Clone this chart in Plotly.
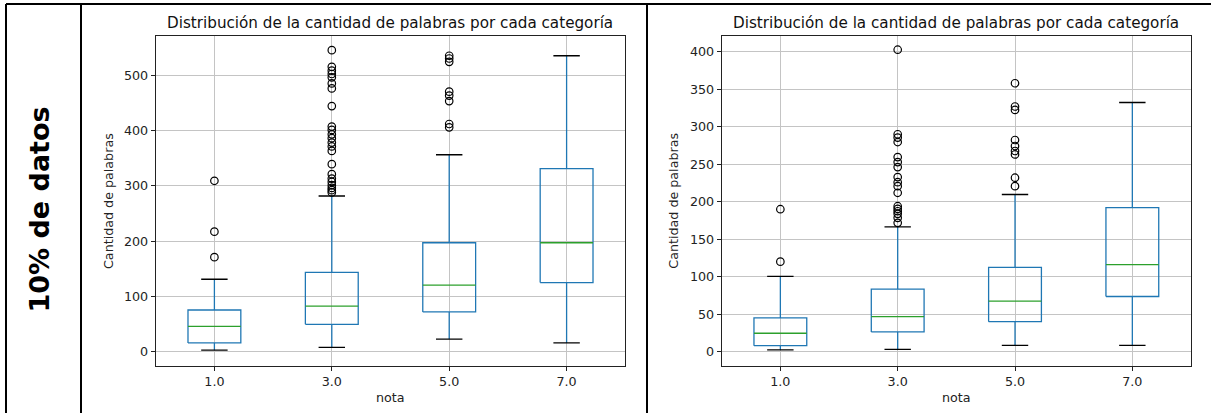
import plotly.graph_objects as go

# ---------------- data ----------------
notas = ["1.0", "3.0", "5.0", "7.0"]
positions = [1, 2, 3, 4]

# left panel
left_lo = [3, 8, 23, 16]
left_q1 = [16, 49.5, 72, 125]
left_med = [46, 82.5, 120.5, 197]
left_q3 = [75.5, 143.5, 197, 331]
left_hi = [131, 281.5, 356, 535]
left_fl_1 = [171, 217, 309]
left_fl_3 = [288, 292, 296, 301, 307, 313, 321, 339, 363, 371, 378, 386, 393,
             401, 407, 444, 476, 485, 496, 502, 508, 515, 545]
left_fl_5 = [405.6, 411.6, 453, 463, 470, 524, 530, 535]
left_fl_7 = []

# right panel
right_lo = [2.3, 3.2, 8.5, 8.5]
right_q1 = [8, 26.3, 40, 73.6]
right_med = [24.6, 46.8, 67.4, 116]
right_q3 = [45, 83.5, 112.4, 192.2]
right_hi = [100.3, 166.4, 209.6, 332.3]
right_fl_1 = [120, 190]
right_fl_3 = [171.8, 178.5, 183.8, 187.3, 190.5, 194, 211.9, 220.7, 226, 232.8,
              246.2, 252.9, 259.5, 279.6, 285.5, 290, 402.7]
right_fl_5 = [220.7, 232, 263, 267.6, 274.3, 282.3, 322.4, 327, 358]
right_fl_7 = []

title_text = "Distribución de la cantidad de palabras por cada categoría"
ylabel_text = "Cantidad de palabras"
xlabel_text = "nota"
row_label = "10% de datos"

# ---------------- style ----------------
W, H = 1211, 413
FONT = "DejaVu Sans"
BLUE = "#1f77b4"
GREEN = "#2ca02c"
BOX_W = 0.45
CAP_W = 0.225
LW = 1.3


def px_x(p):
    return p / W


def px_y(p):
    return 1 - p / H


fig = go.Figure()


def add_panel(fig, xa, ya, lo, q1, med, q3, hi, fliers):
    bx, by, wx, wy, cx, cy, mx, my = [], [], [], [], [], [], [], []
    for p, a, b, c, d, e in zip(positions, lo, q1, med, q3, hi):
        l, r = p - BOX_W / 2, p + BOX_W / 2
        bx += [l, r, r, l, l, None]
        by += [b, b, d, d, b, None]
        wx += [p, p, None, p, p, None]
        wy += [b, a, None, d, e, None]
        cx += [p - CAP_W / 2, p + CAP_W / 2, None, p - CAP_W / 2, p + CAP_W / 2, None]
        cy += [a, a, None, e, e, None]
        mx += [l, r, None]
        my += [c, c, None]
    common = dict(xaxis=xa, yaxis=ya, mode="lines", showlegend=False, hoverinfo="skip")
    fig.add_trace(go.Scatter(x=bx, y=by, line=dict(color=BLUE, width=LW), **common))
    fig.add_trace(go.Scatter(x=wx, y=wy, line=dict(color=BLUE, width=LW), **common))
    fig.add_trace(go.Scatter(x=cx, y=cy, line=dict(color="black", width=LW), **common))
    fig.add_trace(go.Scatter(x=mx, y=my, line=dict(color=GREEN, width=LW), **common))
    fx, fy = [], []
    for p, fl in zip(positions, fliers):
        fx += [p] * len(fl)
        fy += list(fl)
    fig.add_trace(go.Scatter(x=fx, y=fy, xaxis=xa, yaxis=ya, mode="markers",
                             showlegend=False, hoverinfo="skip",
                             marker=dict(symbol="circle-open", size=7.5, color="black",
                                         line=dict(width=1.2, color="black"))))


add_panel(fig, "x", "y", left_lo, left_q1, left_med, left_q3, left_hi,
          [left_fl_1, left_fl_3, left_fl_5, left_fl_7])
add_panel(fig, "x2", "y2", right_lo, right_q1, right_med, right_q3, right_hi,
          [right_fl_1, right_fl_3, right_fl_5, right_fl_7])

ax_top, ax_bot = 35.7, 365.7
left_dom = [px_x(155.7), px_x(625.3)]
right_dom = [px_x(721.7), px_x(1191)]
ydom = [px_y(ax_bot), px_y(ax_top)]

axis_common = dict(showline=True, mirror=True, linecolor="#222", linewidth=1,
                   showgrid=True, gridcolor="#c4c4c4", gridwidth=1,
                   ticks="outside", ticklen=4, tickcolor="#222", tickwidth=1,
                   zeroline=False, tickfont=dict(family=FONT, size=12.7, color="#222"))

fig.update_layout(
    width=W, height=H, margin=dict(l=0, r=0, t=0, b=0),
    paper_bgcolor="white", plot_bgcolor="white",
    font=dict(family=FONT, color="#222"),
    xaxis=dict(domain=left_dom, range=[0.5, 4.5], tickvals=positions, ticktext=notas,
               anchor="y", **axis_common),
    yaxis=dict(domain=ydom, range=[-25.2, 571.2], tickvals=[0, 100, 200, 300, 400, 500],
               anchor="x", **axis_common),
    xaxis2=dict(domain=right_dom, range=[0.5, 4.5], tickvals=positions, ticktext=notas,
                anchor="y2", **axis_common),
    yaxis2=dict(domain=ydom, range=[-18.7, 421.4],
                tickvals=[0, 50, 100, 150, 200, 250, 300, 350, 400],
                anchor="x2", **axis_common),
)

annotations = []
for dom in (left_dom, right_dom):
    cxp = (dom[0] + dom[1]) / 2
    annotations.append(dict(text=title_text, x=cxp, y=px_y(22.7), xref="paper", yref="paper",
                            xanchor="center", yanchor="middle", showarrow=False,
                            font=dict(family=FONT, size=15.2, color="#111")))
    annotations.append(dict(text=xlabel_text, x=cxp, y=px_y(397.5), xref="paper", yref="paper",
                            xanchor="center", yanchor="middle", showarrow=False,
                            font=dict(family=FONT, size=12.7, color="#222")))
for xc in (108.3, 674):
    annotations.append(dict(text=ylabel_text, x=px_x(xc), y=px_y(200.7), xref="paper",
                            yref="paper", xanchor="center", yanchor="middle", textangle=-90,
                            showarrow=False, font=dict(family=FONT, size=12.7, color="#222")))
annotations.append(dict(text="<b>" + row_label + "</b>", x=px_x(39), y=px_y(209.5),
                        xref="paper", yref="paper", xanchor="center", yanchor="middle",
                        textangle=-90, showarrow=False,
                        font=dict(family=FONT, size=27, color="black")))
fig.update_layout(annotations=annotations)

# table borders
shapes = [
    dict(type="line", xref="paper", yref="paper", x0=px_x(6), x1=1, y0=px_y(4), y1=px_y(4),
         line=dict(color="black", width=2)),
]
for xv in (6, 81, 647):
    shapes.append(dict(type="line", xref="paper", yref="paper", x0=px_x(xv), x1=px_x(xv),
                       y0=px_y(4), y1=0, line=dict(color="black", width=2)))
fig.update_layout(shapes=shapes)

fig.write_html("out.html", config={"displayModeBar": False},
               post_script="document.body.style.margin='0px';document.body.style.overflow='hidden';")
